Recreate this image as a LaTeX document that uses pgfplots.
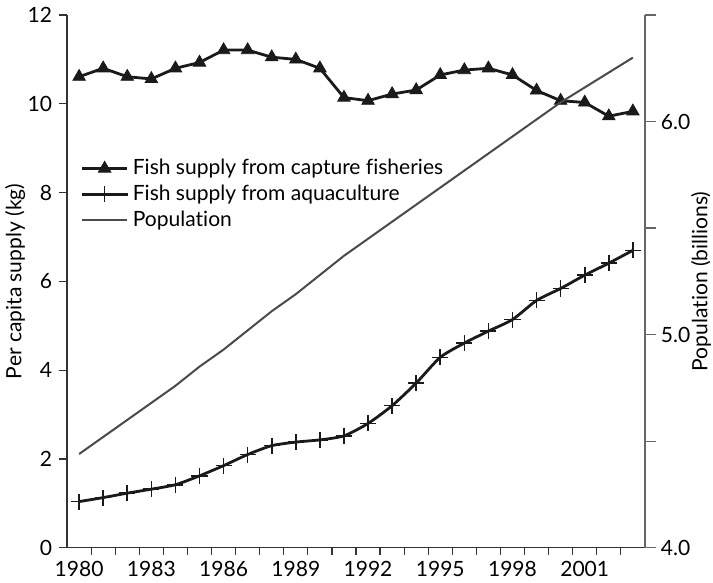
\documentclass[border=0pt]{standalone}
\usepackage{pgfplots}
\pgfplotsset{compat=1.18}
\usepackage{fontspec}
\setmainfont{Lato}[Ligatures={NoCommon}]
\definecolor{dk}{HTML}{1A1A1A}
\definecolor{popc}{HTML}{4A4A4A}
\definecolor{axl}{HTML}{333333}
\definecolor{axr}{HTML}{666666}

\pgfplotstableread{
year capture aqua
1980 10.61 1.04
1981 10.80 1.13
1982 10.61 1.23
1983 10.56 1.32
1984 10.80 1.42
1985 10.93 1.62
1986 11.21 1.85
1987 11.21 2.10
1988 11.05 2.30
1989 11.00 2.38
1990 10.80 2.43
1991 10.14 2.52
1992 10.07 2.80
1993 10.22 3.20
1994 10.31 3.71
1995 10.65 4.29
1996 10.76 4.61
1997 10.80 4.88
1998 10.65 5.14
1999 10.30 5.57
2000 10.07 5.84
2001 10.03 6.14
2002 9.72 6.41
2003 9.83 6.70
}\fishdata

\pgfplotstableread{
year pop
1980 4.44
1981 4.52
1982 4.60
1983 4.68
1984 4.76
1985 4.85
1986 4.93
1987 5.02
1988 5.11
1989 5.19
1990 5.28
1991 5.37
1992 5.45
1993 5.53
1994 5.61
1995 5.69
1996 5.77
1997 5.85
1998 5.93
1999 6.01
2000 6.09
2001 6.16
2002 6.23
2003 6.30
}\popdata

\begin{document}
\begin{tikzpicture}
\pgfplotsset{
  every axis/.append style={font=\fontsize{10.5}{12}\selectfont},
  /pgf/number format/assume math mode=true,
}
\begin{axis}[
  name=left, at={(0,0)}, anchor=south west,
  scale only axis, width=288.5pt, height=266pt,
  xmin=1979.5, xmax=2003.5, ymin=0, ymax=12,
  axis y line*=left, axis x line*=bottom,
  axis line style={draw=axl, line width=0.6pt},
  every tick/.style={draw=axl, line width=0.6pt},
  xtick={1980,1983,...,2001},
  major x tick style={draw=none},
  minor xtick={1980.5,1981.5,...,2002.5},
  minor tick length=3.5pt,
  major tick length=4pt,
  tick align=outside,
  x tick label style={/pgf/number format/1000 sep={}, yshift=1pt},
  ytick={0,2,...,12},
  ylabel={Per capita supply (kg)},
  ylabel style={at={(axis description cs:-0.090,0.5)}, anchor=center},
  legend style={draw=none, fill=none, at={(rel axis cs:0.012,0.745)}, anchor=north west,
    row sep=-0.4pt, font=\fontsize{10.5}{12}\selectfont,
    /tikz/every even column/.append style={column sep=2pt}},
  legend cell align=left,
  legend image code/.code={\draw[mark repeat=2,mark phase=2] plot coordinates {(0cm,0cm) (0.4cm,0cm) (0.8cm,0cm)};},
]
\addplot[dk, line width=1.4pt, mark=triangle*, mark size=3.6pt, mark options={fill=dk, line width=0.4pt}]
  table[x=year, y=capture] {\fishdata};
\addlegendentry{Fish supply from capture fisheries}
\addplot[dk, line width=1.4pt, smooth, tension=0.4, mark=+, mark size=4pt, mark options={line width=0.8pt}]
  table[x=year, y=aqua] {\fishdata};
\addlegendentry{Fish supply from aquaculture}
\addlegendimage{popc, line width=1pt}
\addlegendentry{Population}
\end{axis}

\begin{axis}[
  at={(0,0)}, anchor=south west,
  scale only axis, width=288.5pt, height=266pt,
  xmin=1979.5, xmax=2003.5, ymin=4, ymax=6.5,
  axis y line*=right, axis x line=none,
  axis line style={draw=axr, line width=0.7pt},
  every tick/.style={draw=axr, line width=0.7pt},
  major tick length=5.5pt,
  tick align=outside,
  ytick={4,4.5,5,5.5,6,6.5},
  yticklabels={4.0,{},5.0,{},6.0,{}},
  y tick label style={xshift=-1pt},
  ylabel={Population (billions)},
  ylabel style={at={(axis description cs:1.097,0.5)}, anchor=center, rotate=0},
]
\addplot[popc, line width=1pt] table[x=year, y=pop] {\popdata};
\end{axis}
\pgfresetboundingbox
\path (-33.5pt,-17.5pt) rectangle (322.5pt,273.5pt);
\end{tikzpicture}
\end{document}
